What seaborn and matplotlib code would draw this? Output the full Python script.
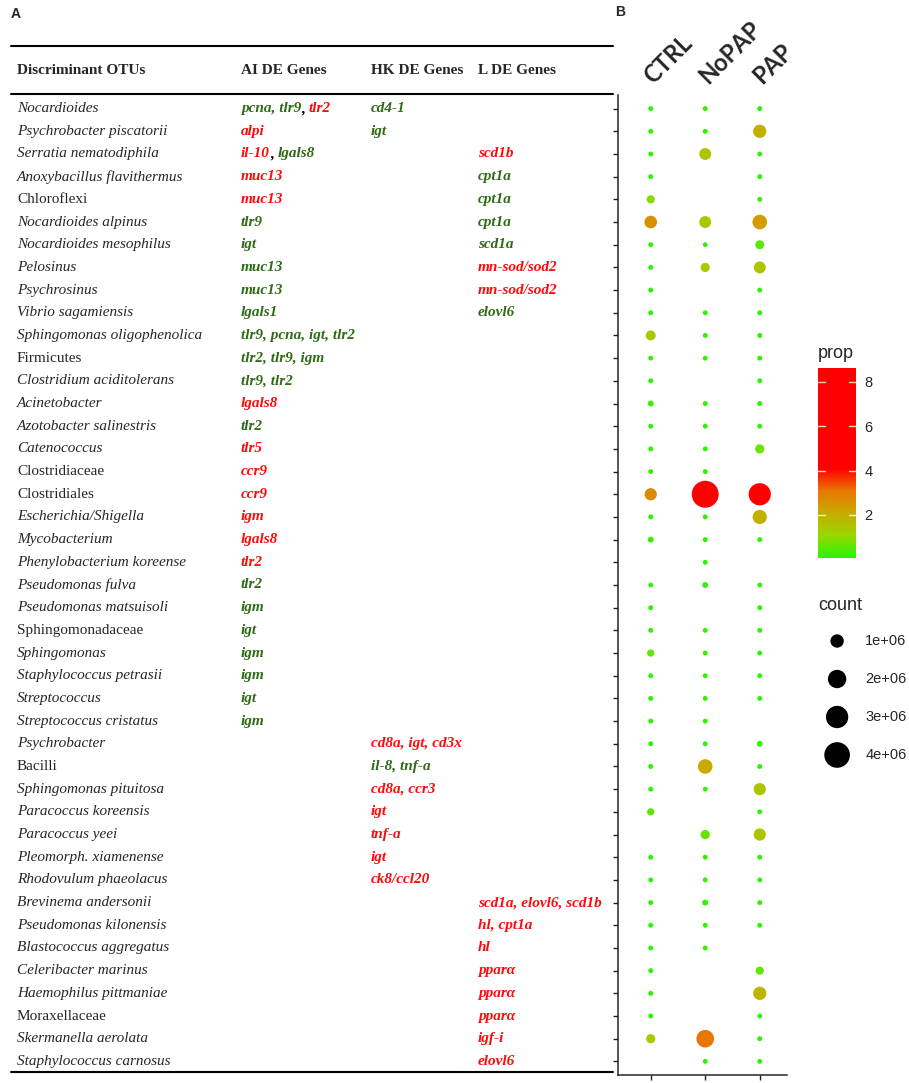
import numpy as np
import pandas as pd
import matplotlib
matplotlib.use('Agg')
import matplotlib.pyplot as plt
import seaborn as sns
from matplotlib.colors import LinearSegmentedColormap, Normalize
from matplotlib.cm import ScalarMappable
from matplotlib.lines import Line2D
from matplotlib.transforms import blended_transform_factory

sns.set_style('ticks')
plt.rcParams['font.family'] = ['Liberation Sans', 'DejaVu Sans']

W, H = 909, 1083

# --- données ---
otus = [
    'Nocardioides', 'Psychrobacter piscatorii', 'Serratia nematodiphila',
    'Anoxybacillus flavithermus', 'Chloroflexi', 'Nocardioides alpinus',
    'Nocardioides mesophilus', 'Pelosinus', 'Psychrosinus', 'Vibrio sagamiensis',
    'Sphingomonas oligophenolica', 'Firmicutes', 'Clostridium aciditolerans',
    'Acinetobacter', 'Azotobacter salinestris', 'Catenococcus', 'Clostridiaceae',
    'Clostridiales', 'Escherichia/Shigella', 'Mycobacterium',
    'Phenylobacterium koreense', 'Pseudomonas fulva', 'Pseudomonas matsuisoli',
    'Sphingomonadaceae', 'Sphingomonas', 'Staphylococcus petrasii',
    'Streptococcus', 'Streptococcus cristatus', 'Psychrobacter', 'Bacilli',
    'Sphingomonas pituitosa', 'Paracoccus koreensis', 'Paracoccus yeei',
    'Pleomorph. xiamenense', 'Rhodovulum phaeolacus', 'Brevinema andersonii',
    'Pseudomonas kilonensis', 'Blastococcus aggregatus', 'Celeribacter marinus',
    'Haemophilus pittmaniae', 'Moraxellaceae', 'Skermanella aerolata',
    'Staphylococcus carnosus',
]
# rangs supérieurs au genre : pas d'italique
upright = {'Chloroflexi', 'Firmicutes', 'Clostridiaceae', 'Clostridiales',
           'Sphingomonadaceae', 'Bacilli', 'Moraxellaceae'}

# cellules de gènes : "couleur:texte", segments séparés par "|"
ai_genes = [
    'g:pcna, tlr9|k:,|r: tlr2', 'r:alpi', 'r:il-10|k:,|g: lgals8', 'r:muc13',
    'r:muc13', 'g:tlr9', 'g:igt', 'g:muc13', 'g:muc13', 'g:lgals1',
    'g:tlr9, pcna, igt, tlr2', 'g:tlr2, tlr9, igm', 'g:tlr9, tlr2', 'r:lgals8',
    'g:tlr2', 'r:tlr5', 'r:ccr9', 'r:ccr9', 'r:igm', 'r:lgals8', 'r:tlr2',
    'g:tlr2', 'g:igm', 'g:igt', 'g:igm', 'g:igm', 'g:igt', 'g:igm',
    '', '', '', '', '', '', '', '', '', '', '', '', '', '', '',
]
hk_genes = [
    'g:cd4-1', 'g:igt', '', '', '', '', '', '', '', '', '', '', '', '', '',
    '', '', '', '', '', '', '', '', '', '', '', '', '',
    'r:cd8a, igt, cd3x', 'g:il-8, tnf-a', 'r:cd8a, ccr3', 'r:igt', 'r:tnf-a',
    'r:igt', 'r:ck8/ccl20', '', '', '', '', '', '', '', '',
]
l_genes = [
    '', '', 'r:scd1b', 'g:cpt1a', 'g:cpt1a', 'g:cpt1a', 'g:scd1a',
    'r:mn-sod/sod2', 'r:mn-sod/sod2', 'g:elovl6',
    '', '', '', '', '', '', '', '', '', '', '', '', '', '', '', '', '', '',
    '', '', '', '', '', '', '',
    'r:scd1a, elovl6, scd1b', 'r:hl, cpt1a', 'r:hl', 'r:pparα', 'r:pparα',
    'r:pparα', 'r:igf-i', 'r:elovl6',
]

groups = ['CTRL', 'NoPAP', 'PAP']

ctrl_count = [3e4, 3e4, 3e4, 3e4, 3.0e5, 8.8e5, 3e4, 3e4, 3e4, 3e4, 5.0e5, 3e4,
              3e4, 9.8e4, 3e4, 3e4, 3e4, 8.2e5, 3e4, 9.8e4, None, 3e4, 3e4, 3e4,
              2.1e5, 3e4, 3e4, 3e4, 3e4, 3e4, 3e4, 2.1e5, None, 3e4, 3e4, 3e4,
              3e4, 3e4, 3e4, 3e4, 3e4, 4.1e5, None]
nopap_count = [3e4, 3e4, 7.7e5, None, None, 7.7e5, 1.5e4, 4.1e5, None, 3e4, 3e4,
               3e4, None, 3e4, 3e4, 3e4, 3e4, 4.43e6, 3e4, 3e4, 3e4, 9.8e4, None,
               3e4, 3e4, 3e4, 3e4, 3e4, 3e4, 1.22e6, 3e4, None, 4.1e5, 3e4, 3e4,
               9.8e4, 3e4, 3e4, None, None, None, 1.83e6, 3e4]
pap_count = [3e4, 9.8e5, 3e4, 3e4, 3e4, 1.22e6, 3.8e5, 7.7e5, 3e4, 3e4, 3e4, 3e4,
             3e4, 3e4, 3e4, 4.1e5, None, 2.98e6, 1.15e6, 3e4, None, 3e4, 3e4, 3e4,
             3e4, 3e4, 3e4, None, 9.8e4, 3e4, 8.2e5, 3e4, 8.2e5, 3e4, 3e4, 3e4,
             3e4, None, 3.0e5, 9.8e5, 3e4, 3e4, 3e4]

ctrl_prop = [0.1, 0.1, 0.1, 0.1, 0.9, 2.6, 0.1, 0.1, 0.1, 0.1, 1.4, 0.1, 0.1, 0.2,
             0.1, 0.1, 0.1, 2.7, 0.1, 0.2, None, 0.1, 0.1, 0.1, 0.6, 0.1, 0.1,
             0.1, 0.1, 0.1, 0.1, 0.5, None, 0.1, 0.1, 0.1, 0.1, 0.1, 0.1, 0.1,
             0.1, 1.3, None]
nopap_prop = [0.1, 0.1, 1.5, None, None, 1.5, 0.1, 1.3, None, 0.1, 0.1, 0.1, None,
              0.1, 0.1, 0.1, 0.1, 8.63, 0.1, 0.1, 0.1, 0.2, None, 0.1, 0.1, 0.1,
              0.1, 0.1, 0.1, 2.1, 0.1, None, 0.6, 0.1, 0.1, 0.2, 0.1, 0.1, None,
              None, None, 3.1, 0.1]
pap_prop = [0.1, 2.0, 0.1, 0.1, 0.1, 2.4, 0.5, 1.5, 0.1, 0.1, 0.1, 0.1, 0.1, 0.1,
            0.1, 0.7, None, 5.5, 2.0, 0.1, None, 0.1, 0.1, 0.1, 0.1, 0.1, 0.1,
            None, 0.2, 0.1, 1.5, 0.1, 1.5, 0.1, 0.1, 0.1, 0.1, None, 0.6, 1.9,
            0.1, 0.1, 0.1]

legend_counts = [1e6, 2e6, 3e6, 4e6]
legend_labels = ['1e+06', '2e+06', '3e+06', '4e+06']
prop_ticks = [2, 4, 6, 8]

# --- table longue pour seaborn ---
records = []
for gi, (cnts, props) in enumerate(zip([ctrl_count, nopap_count, pap_count],
                                       [ctrl_prop, nopap_prop, pap_prop])):
    for ri, (c, p) in enumerate(zip(cnts, props)):
        if c is not None:
            records.append({'col': gi, 'row': ri, 'count': c, 'prop': p})
df = pd.DataFrame(records)

# dégradé vert -> rouge (interpolation Lab approchée), rouge au-delà de ~4
prop_norm = Normalize(0.06, 8.63)
prop_cmap = LinearSegmentedColormap.from_list('prop', [
    (0.0, '#28f500'), (0.1175, '#98d700'), (0.235, '#c8ab00'),
    (0.3525, '#e87600'), (0.47, '#ff0000'), (1.0, '#ff0000')])
SIZES = (10, 390)
SIZE_NORM = (0, 4.6e6)

fig = plt.figure(figsize=(W / 100, H / 100), dpi=100)
ax = fig.add_axes([618 / W, 1 - 1075 / H, (787 - 618) / W, (1075 - 95) / H])

sns.scatterplot(data=df, x='col', y='row', hue='prop', size='count',
                palette=prop_cmap, hue_norm=prop_norm, sizes=SIZES,
                size_norm=SIZE_NORM, linewidth=0, legend=False, ax=ax)
ax.set_xlim(-0.6, 2.5)
ax.set_ylim(len(otus) - 0.4, -0.6)
ax.set_xticks(range(len(groups)))
ax.set_yticks(range(len(otus)))
ax.set_xticklabels([])
ax.set_yticklabels([])
ax.set_xlabel('')
ax.set_ylabel('')
ax.tick_params(length=3.5, width=1, color='#222222')
sns.despine(ax=ax)
for s in ['left', 'bottom']:
    ax.spines[s].set_linewidth(1.1)

for i, g in enumerate(groups):
    ax.annotate(g, xy=(i, 1), xycoords=('data', 'axes fraction'),
                xytext=(4, 5.5), textcoords='offset points', rotation=45,
                rotation_mode='anchor', ha='left', va='bottom', fontsize=17,
                fontweight='bold', family='Lato', annotation_clip=False)

# --- tableau (panneau A) ---
trans = blended_transform_factory(fig.transFigure, ax.transData)
serif = 'Liberation Serif'
gene_colors = {'g': '#2e6b14', 'r': '#ff0a0a', 'k': '#000000'}
col_x = {'otu': 17, 'ai': 241, 'hk': 371, 'l': 478}
header_y = -1.66

for y in [-2.76, -0.64, len(otus) - 0.53]:
    fig.add_artist(Line2D([11 / W, 613 / W], [y, y], transform=trans,
                          color='black', lw=1.5))

for key, label in zip(['otu', 'ai', 'hk', 'l'],
                      ['Discriminant OTUs', 'AI DE Genes', 'HK DE Genes', 'L DE Genes']):
    fig.text(col_x[key] / W, header_y, label, transform=trans, family=serif,
             fontsize=11, fontweight='bold', va='center', ha='left')


def draw_cell(x_px, row, cell):
    prev = None
    for part in cell.split('|'):
        code, txt = part.split(':', 1)
        gap = 2.8 if txt.startswith(' ') else 0
        kw = dict(color=gene_colors[code], fontsize=11, fontweight='bold',
                  fontstyle='italic', family=serif, va='center', ha='left')
        if prev is None:
            prev = fig.text(x_px / W, row, txt.strip(), transform=trans, **kw)
        else:
            prev = ax.annotate(txt.strip(), xy=(1, 0.5), xycoords=prev,
                               xytext=(gap, 0), textcoords='offset points', **kw)


for ri, name in enumerate(otus):
    fig.text(col_x['otu'] / W, ri, name, transform=trans, family=serif,
             fontsize=11, fontstyle='normal' if name in upright else 'italic',
             va='center', ha='left')
    for key, cells in zip(['ai', 'hk', 'l'], [ai_genes, hk_genes, l_genes]):
        if cells[ri]:
            draw_cell(col_x[key], ri, cells[ri])

# --- légendes ---
cax = fig.add_axes([818 / W, 1 - 558 / H, 38 / W, 190 / H])
cb = fig.colorbar(ScalarMappable(norm=prop_norm, cmap=prop_cmap), cax=cax,
                  ticks=prop_ticks)
cb.outline.set_visible(False)
cax.tick_params(length=0, labelsize=10.5, pad=6)
for v in prop_ticks:
    cax.axhline(v, xmin=0, xmax=0.19, color='white', lw=1, alpha=0.8)
    cax.axhline(v, xmin=0.81, xmax=1, color='white', lw=1, alpha=0.8)
fig.text(818 / W, 1 - 353 / H, 'prop', fontsize=13, va='center', ha='left')

fig.text(818 / W, 1 - 605 / H, 'count', fontsize=13, va='center', ha='left')
lax = fig.add_axes([818 / W, 1 - 774 / H, 91 / W, 152 / H])
sns.scatterplot(x=[0.21] * len(legend_counts), y=list(range(len(legend_counts))),
                size=legend_counts, sizes=SIZES, size_norm=SIZE_NORM,
                color='black', linewidth=0, legend=False, ax=lax)
for i, lab in enumerate(legend_labels):
    lax.text(0.52, i, lab, fontsize=10.5, va='center', ha='left')
lax.set_xlim(0, 1)
lax.set_ylim(len(legend_counts) - 0.5, -0.5)
lax.axis('off')

fig.text(11 / W, 1 - 14 / H, 'A', fontsize=10, fontweight='bold', va='center')
fig.text(615 / W, 1 - 12 / H, 'B', fontsize=10, fontweight='bold', va='center')

fig.savefig('out.png', dpi=100)
